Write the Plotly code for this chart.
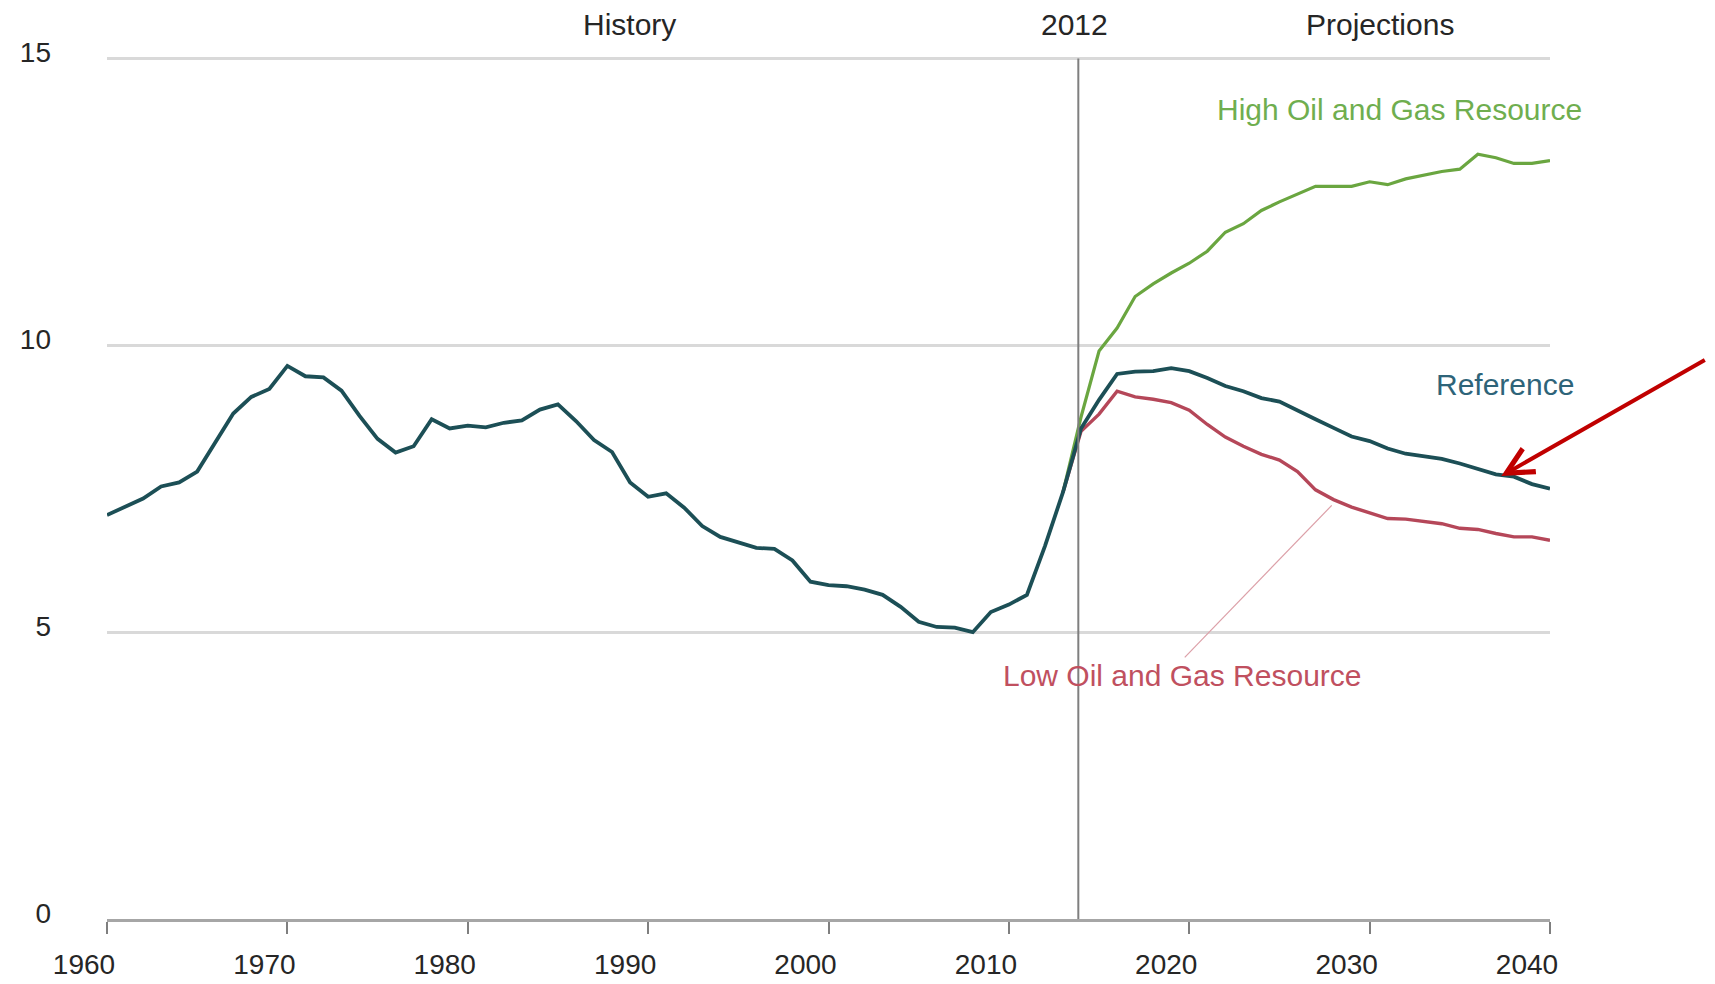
import plotly.graph_objects as go

# ---------------- data ----------------
history_years = list(range(1960, 2014))
history_values = [
    7.04, 7.18, 7.33, 7.54, 7.61, 7.80, 8.30, 8.81, 9.10, 9.24,
    9.64, 9.46, 9.44, 9.21, 8.77, 8.37, 8.13, 8.24, 8.71, 8.55,
    8.60, 8.57, 8.65, 8.69, 8.88, 8.97, 8.68, 8.35, 8.14, 7.61,
    7.36, 7.42, 7.17, 6.85, 6.66, 6.56, 6.47, 6.45, 6.25, 5.88,
    5.82, 5.80, 5.74, 5.65, 5.44, 5.18, 5.09, 5.08, 5.00, 5.35,
    5.48, 5.65, 6.50, 7.44,
]

proj_years = list(range(2013, 2041))
reference_proj = [
    7.44, 8.55, 9.05, 9.50, 9.54, 9.55, 9.60, 9.55, 9.43, 9.29,
    9.20, 9.08, 9.02, 8.86, 8.71, 8.56, 8.41, 8.33, 8.20, 8.11,
    8.06, 8.02, 7.94, 7.84, 7.75, 7.71, 7.58, 7.50,
]
high_proj = [
    7.44, 8.75, 9.90, 10.30, 10.85, 11.07, 11.26, 11.43, 11.64, 11.97,
    12.12, 12.35, 12.50, 12.63, 12.77, 12.77, 12.77, 12.85, 12.80, 12.90,
    12.96, 13.03, 13.07, 13.33, 13.27, 13.17, 13.17, 13.22,
]
low_proj = [
    7.44, 8.50, 8.80, 9.20, 9.10, 9.06, 9.00, 8.87, 8.62, 8.40,
    8.24, 8.10, 8.00, 7.80, 7.48, 7.31, 7.18, 7.08, 6.98, 6.97,
    6.93, 6.89, 6.81, 6.79, 6.72, 6.66, 6.66, 6.60,
]

x_ticks = [1960, 1970, 1980, 1990, 2000, 2010, 2020, 2030, 2040]
y_ticks = [0, 5, 10, 15]
split_year = 2013.85          # position of the history / projections divider
leader_x = [2019.75, 2027.9]  # leader from the "Low" label to its curve
leader_y = [4.56, 7.21]
arrow_tip = (2037.3, 7.72)

# ---------------- style ----------------
FONT = "Liberation Sans, Arial, sans-serif"
C_REF = "#1c4f56"
C_HIGH = "#6aa640"
C_LOW = "#b54759"
C_TEXT = "#262626"

# page body has an 8px default margin; figure is offset by it
W, H = 1707, 976
ML, MT = 99, 47
MR = W - 1542
MB = H - 911

fig = go.Figure()

fig.add_trace(go.Scatter(
    x=proj_years, y=high_proj, mode="lines",
    line=dict(color=C_HIGH, width=3.2), name="High Oil and Gas Resource",
    showlegend=False))
fig.add_trace(go.Scatter(
    x=proj_years, y=low_proj, mode="lines",
    line=dict(color=C_LOW, width=3.4), name="Low Oil and Gas Resource",
    showlegend=False))
fig.add_trace(go.Scatter(
    x=history_years + proj_years[1:], y=history_values + reference_proj[1:],
    mode="lines", line=dict(color=C_REF, width=3.8), name="Reference",
    showlegend=False))
fig.add_trace(go.Scatter(
    x=leader_x, y=leader_y, mode="lines",
    line=dict(color="#dca0a8", width=1.2), showlegend=False, hoverinfo="skip"))

fig.add_shape(type="line", xref="x", yref="y", x0=split_year, x1=split_year,
              y0=0, y1=15, line=dict(color="#7f7f7f", width=2), layer="above")

plot_h = H - MT - MB
ann = []
def label(text, x, y, color, size=30, yref="y"):
    ann.append(dict(text=text, x=x, y=y, xref="x", yref=yref, showarrow=False,
                    xanchor="center", yanchor="middle",
                    font=dict(family=FONT, size=size, color=color)))

label("History", 1988.94, 1 + 30 / plot_h, C_TEXT, yref="paper")
label("2012", 2013.66, 1 + 30 / plot_h, C_TEXT, yref="paper")
label("Projections", 2030.57, 1 + 30 / plot_h, C_TEXT, yref="paper")
label("High Oil and Gas Resource", 2031.67, 14.11, "#6fae4f")
label("Reference", 2037.5, 9.32, "#2e6479")
label("Low Oil and Gas Resource", 2019.65, 4.25, "#c0505f")

ann.append(dict(x=arrow_tip[0], y=arrow_tip[1], xref="x", yref="y",
                ax=205, ay=-117, text="", showarrow=True,
                arrowhead=5, arrowsize=1.3, arrowwidth=4,
                arrowcolor="#c00000", standoff=0))

fig.update_layout(
    width=W, height=H,
    margin=dict(l=ML, r=MR, t=MT, b=MB),
    paper_bgcolor="white", plot_bgcolor="white",
    annotations=ann,
    font=dict(family=FONT, color=C_TEXT),
    showlegend=False,
)
fig.update_xaxes(
    range=[1960, 2040], tickvals=x_ticks, ticktext=[str(v) for v in x_ticks],
    showgrid=False, zeroline=False,
    showline=True, linecolor="#a6a6a6", linewidth=3,
    ticks="outside", ticklen=12, tickwidth=2, tickcolor="#7f7f7f",
    tickfont=dict(family=FONT, size=28, color=C_TEXT),
    ticklabelshift=-23, ticklabelstandoff=6, automargin=False,
)
fig.update_yaxes(
    range=[0, 15.06], tickvals=y_ticks, ticktext=[str(v) for v in y_ticks],
    showgrid=True, gridcolor="#d9d9d9", gridwidth=3,
    zeroline=False, showline=False, ticks="",
    tickfont=dict(family=FONT, size=28, color=C_TEXT),
    ticklabelstandoff=55, ticklabelshift=-6, automargin=False,
)

fig.write_html("out.html")
